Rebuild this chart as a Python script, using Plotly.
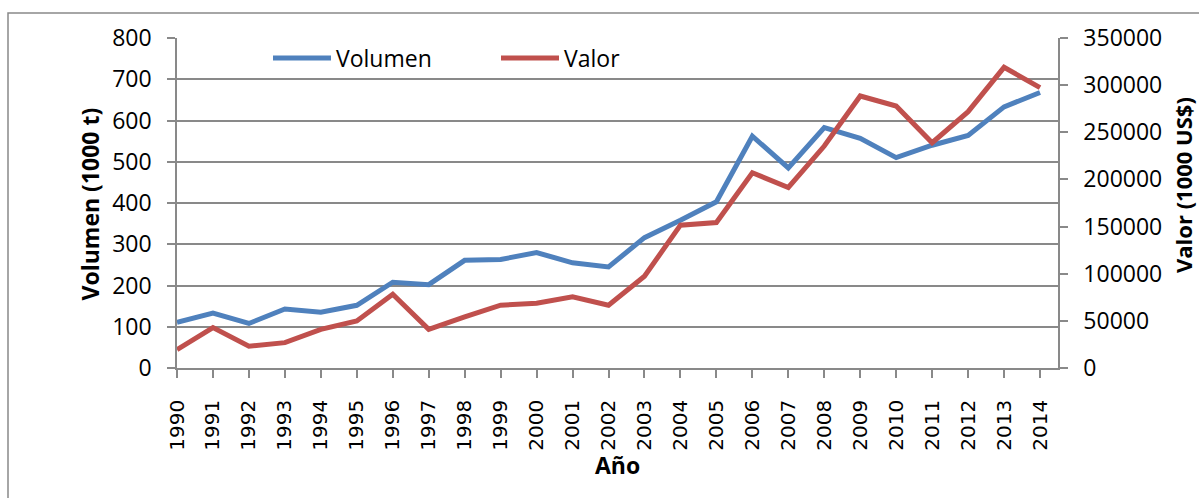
import plotly.graph_objects as go

years = list(range(1990, 2015))
year_labels = [str(y) for y in years]
volumen = [111, 133, 108, 143, 135, 152, 208, 202, 261, 263, 280, 255, 245,
           316, 358, 403, 562, 485, 583, 557, 510, 540, 564, 633, 668]
valor = [19500, 42800, 23000, 26900, 41000, 49900, 78200, 41000, 54200, 66600,
         68700, 75400, 66600, 97300, 151500, 154300, 207100, 191500, 235400,
         288500, 277900, 238900, 271900, 318900, 297300]
left_ticks = list(range(0, 801, 100))
right_ticks = list(range(0, 350001, 50000))

BLUE = "#4F81BD"
RED = "#C0504D"
GRID = "#898989"
FONT = "Open Sans, Lato, sans-serif"

W, H = 1199, 498
L, R, T, B = 177, 1058, 38, 368
pw, ph = R - L, B - T


def px(x):
    return (x - L) / pw


def py(y):
    return (B - y) / ph


fig = go.Figure()
fig.add_trace(go.Scatter(x=years, y=volumen, name="Volumen", mode="lines",
                         line=dict(color=BLUE, width=5), yaxis="y"))
fig.add_trace(go.Scatter(x=years, y=valor, name="Valor", mode="lines",
                         line=dict(color=RED, width=5), yaxis="y2"))

fig.update_layout(
    width=W, height=H,
    margin=dict(l=L, r=W - R, t=T, b=H - B, autoexpand=False),
    paper_bgcolor="white", plot_bgcolor="white",
    font=dict(family=FONT, size=23, color="#000000"),
    showlegend=True,
    legend=dict(orientation="h", x=px(268), y=py(58), xanchor="left", yanchor="middle",
                bgcolor="rgba(0,0,0,0)", font=dict(size=23, family=FONT),
                entrywidth=155, entrywidthmode="pixels", itemwidth=58,
                traceorder="normal"),
    xaxis=dict(range=[1990, 2014.5], tickmode="array", tickvals=years, ticktext=year_labels,
               tickangle=-90, ticks="outside", ticklen=8, tickcolor=GRID, tickwidth=1.5,
               showline=True, linecolor=GRID, linewidth=1.5, showgrid=False, zeroline=False,
               ticklabelstandoff=14,
               tickfont=dict(family="DejaVu Sans", size=20)),
    yaxis=dict(range=[0, 800], tickmode="array", tickvals=left_ticks,
               ticks="outside", ticklen=8, tickcolor=GRID, tickwidth=1.5,
               showline=True, linecolor=GRID, linewidth=1.5,
               showgrid=True, gridcolor=GRID, gridwidth=1.5, zeroline=False,
               ticklabelstandoff=11),
    yaxis2=dict(range=[0, 350000], tickmode="array", tickvals=right_ticks,
                tickformat="d",
                overlaying="y", side="right", anchor="x",
                ticks="outside", ticklen=8, tickcolor=GRID, tickwidth=1.5,
                showline=True, linecolor=GRID, linewidth=1.5,
                showgrid=False, zeroline=False, ticklabelstandoff=11),
    annotations=[
        dict(text="<b>Volumen (1000 t)</b>", xref="paper", yref="paper",
             x=px(89), y=py(204.5), textangle=-90, showarrow=False,
             xanchor="center", yanchor="middle", font=dict(size=23, family=FONT)),
        dict(text="<b>Valor (1000 US$)</b>", xref="paper", yref="paper",
             x=px(1183), y=py(185), textangle=-90, showarrow=False,
             xanchor="center", yanchor="middle", font=dict(size=22, family=FONT)),
        dict(text="<b>Año</b>", xref="paper", yref="paper",
             x=px(617), y=py(465), showarrow=False,
             xanchor="center", yanchor="middle", font=dict(size=23, family=FONT)),
    ],
    shapes=[
        dict(type="rect", xref="paper", yref="paper",
             x0=px(8), x1=px(1210), y0=py(510), y1=py(13),
             line=dict(color=GRID, width=1.5), fillcolor="rgba(0,0,0,0)", layer="below"),
    ],
)

fig.write_html("out.html", config={"displayModeBar": False},
               post_script="document.body.style.margin='0';document.body.style.overflow='hidden';")
